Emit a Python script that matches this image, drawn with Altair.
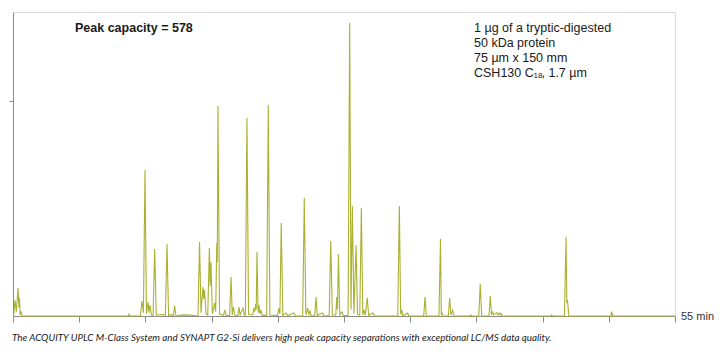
import altair as alt
import pandas as pd

# Chromatogram trace (retention time in min, relative intensity)
trace_time = [
    5.00, 5.05, 5.15, 5.25, 5.38, 5.45, 5.49, 5.54, 5.60, 5.68,
    13.68, 13.76, 13.84,
    14.62, 14.74, 14.85, 14.97, 15.08, 15.20, 15.27, 15.35, 15.45,
    15.58, 15.70, 15.82, 16.30, 16.51, 16.63, 16.75, 17.00, 17.11, 17.21, 17.31,
    17.80, 18.40,
    18.97, 19.09, 19.20, 19.35, 19.40, 19.46, 19.58, 19.71, 19.83, 19.89, 19.95,
    20.06, 20.23, 20.31, 20.39, 20.43, 20.48, 20.60, 20.90, 21.01, 21.10,
    21.36, 21.47, 21.56, 21.65, 21.75, 21.98, 22.07, 22.15, 22.37, 22.47,
    22.55, 22.67, 22.79, 23.10, 23.20, 23.26, 23.32, 23.37, 23.43, 23.51,
    23.58, 23.65, 23.73, 23.82, 24.16, 24.28, 24.40, 24.98, 25.09, 25.16,
    25.26, 25.38, 25.62, 25.75, 26.22, 26.35,
    26.88, 27.00, 27.12, 27.26, 27.34, 27.43, 27.52, 27.79, 27.89, 27.98,
    28.38, 28.48, 28.88, 29.00, 29.12, 29.38, 29.45, 29.51, 29.58, 29.68,
    29.85, 29.95, 30.31, 30.43, 30.53, 30.63, 30.75, 30.91, 31.02, 31.19,
    31.31, 31.42, 31.51, 31.60, 31.76, 31.86, 32.19, 32.30,
    34.06, 34.18, 34.28, 34.36, 34.45, 34.81, 34.90,
    36.02, 36.12, 36.22,
    37.17, 37.29, 37.35, 37.40, 37.48, 37.88, 37.98, 38.08, 38.21, 38.30,
    39.52, 39.59, 39.65,
    40.18, 40.29, 40.40, 40.95, 41.05, 41.14, 41.22, 41.30, 41.53, 41.60,
    41.71, 41.78, 41.86, 41.95,
    45.62, 45.69, 45.75,
    46.65, 46.77, 46.83, 46.88, 46.98,
    50.15, 50.22, 50.30,
    55.00,
]
trace_signal = [
    0, 0, 7.4, 2.0, 13.0, 4.0, 8.4, 0.5, 2.3, 0,
    0, 0.9, 0,
    0, 7.0, 1.5, 67.9, 1.0, 6.5, 1.5, 5.1, 0.5,
    0, 31.2, 0.5, 0.7, 0.3, 33.5, 0.3, 0.6, 0, 4.7, 0,
    0.5, 0.4,
    0, 34.4, 1.5, 13.5, 8.0, 12.1, 1.0, 0.5, 31.6, 14.0, 25.1,
    1.0, 6.0, 2.0, 34.0, 25.0, 97.7, 1.0, 0.3, 2.8, 0.3,
    0.2, 18.1, 0.5, 4.2, 0.3, 0.2, 4.2, 0.5, 3.7, 0.5,
    0.5, 92.1, 0.8, 0.5, 3.7, 2.0, 5.6, 3.0, 29.8, 1.5,
    5.1, 1.0, 2.8, 0.3, 0.3, 98.1, 0.5, 0.3, 3.7, 1.0,
    43.3, 0.3, 1.4, 0.2, 1.4, 0,
    0, 54.9, 0.5, 3.7, 0.8, 2.3, 0, 0.2, 8.8, 0.3,
    1.4, 0, 0.2, 34.9, 0.5, 0.5, 8.8, 3.0, 28.8, 0.5,
    1.9, 0.2, 0.3, 136.3, 3.0, 51.2, 1.0, 33.0, 0.8, 0.5,
    50.2, 0.5, 2.8, 0.3, 8.4, 0.3, 1.4, 0,
    0, 51.2, 0.8, 2.8, 0, 1.4, 0,
    0, 8.8, 0,
    0, 35.8, 0.5, 1.4, 0, 0, 8.4, 0.5, 2.8, 0,
    0, 0.5, 0,
    0, 14.9, 0, 0, 9.3, 0.5, 1.9, 0.5, 1.6, 0.5,
    1.4, 0.5, 1.2, 0,
    0, 0.5, 0,
    0, 36.7, 6.0, 7.4, 0,
    0, 2.0, 0,
    0,
]

x_ticks = [5, 10, 15, 20, 25, 30, 35, 40, 45, 50, 55]
y_ticks = [100]
x_end_label = "55 min"
title_text = "Peak capacity = 578"
info_lines = ["1 µg of a tryptic-digested", "50 kDa protein", "75 µm x 150 mm"]
info_last = ["CSH130 C", "18", ", 1.7 µm"]
caption = ("The ACQUITY UPLC M-Class System and SYNAPT G2-Si delivers high peak "
           "capacity separations with exceptional LC/MS data quality.")

W, H = 662, 304
AXIS = "#8a8a8a"
LINE = "#a9b232"

df = pd.DataFrame({"time": trace_time, "signal": trace_signal})

trace = alt.Chart(df).mark_line(color=LINE, strokeWidth=1.1, interpolate="linear").encode(
    x=alt.X("time:Q",
            scale=alt.Scale(domain=[5, 55], nice=False, zero=False),
            axis=alt.Axis(values=x_ticks, labels=False, title=None, grid=False,
                          domainColor=AXIS, tickColor=AXIS, tickSize=6,
                          domainWidth=1, tickWidth=1)),
    y=alt.Y("signal:Q",
            scale=alt.Scale(domain=[0, 141.4], nice=False),
            axis=alt.Axis(values=y_ticks, labels=False, title=None, grid=False,
                          domainColor=AXIS, tickColor=AXIS, tickSize=4,
                          domainWidth=1, tickWidth=1)),
)

one = pd.DataFrame({"k": [0]})

def txt(s, x, y, size=12.5, weight="normal", style="normal", font="Liberation Sans",
        color="#1a1a1a", align="left"):
    return alt.Chart(one).mark_text(
        text=s, fontSize=size, fontWeight=weight, fontStyle=style, font=font,
        color=color, align=align, baseline="middle"
    ).encode(x=alt.value(x), y=alt.value(y))

layers = [trace]
layers.append(txt(title_text, 62, 16, size=12.5, weight="bold"))
for i, s in enumerate(info_lines):
    layers.append(txt(s, 461, 16 + 15 * i))
layers.append(txt(info_last[0], 461, 61))
layers.append(txt(info_last[1], 520.5, 64, size=8))
layers.append(txt(info_last[2], 528.5, 61))
layers.append(txt(caption, -1, 326, size=9.8, style="italic", font="Lato", color="#222222"))

end_lbl = alt.Chart(pd.DataFrame({"t": [55], "lbl": [x_end_label]})).mark_text(
    fontSize=11, font="Liberation Sans", color="#333333", align="left",
    baseline="middle", dx=6
).encode(x=alt.X("t:Q"), y=alt.value(H + 1), text="lbl:N")
layers.append(end_lbl)

chart = alt.layer(*layers).properties(
    width=W, height=H, autosize="none",
    padding={"left": 13, "top": 12, "right": 46, "bottom": 41},
).configure_view(stroke=None).configure(background="white")

chart.save("out.html", embed_options={"renderer": "svg", "actions": False})
